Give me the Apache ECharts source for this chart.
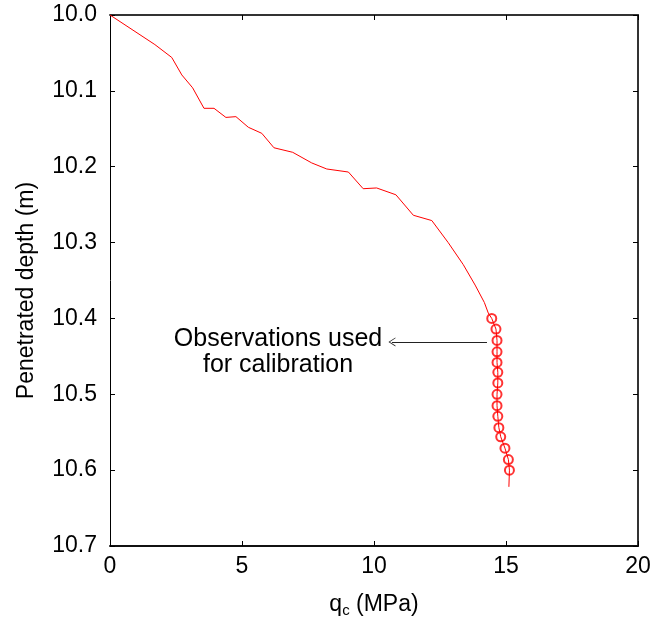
<!DOCTYPE html>
<html>
<head>
<meta charset="utf-8">
<script src="https://cdn.jsdelivr.net/npm/echarts@6/dist/echarts.min.js"></script>
<style>
  html, body { margin: 0; padding: 0; background: #fff; }
  #chart { width: 651px; height: 621px; }
</style>
</head>
<body>
<div id="chart"></div>
<script>
// cone resistance profile (x = qc in MPa, y = depth in m)
const profileQc = [0, 1.70, 2.34, 2.72, 3.13, 3.56, 3.94, 4.39, 4.77, 5.24, 5.75, 6.21, 6.92, 7.64, 8.21, 9.03, 9.59, 10.10, 10.83, 11.49, 12.19, 12.81, 13.38, 13.83, 14.18, 14.33,
  14.46, 14.62, 14.66, 14.66, 14.66, 14.69, 14.69, 14.66, 14.66, 14.69, 14.73, 14.80, 14.96, 15.09, 15.13, 15.11]
const profileDepth = [10.0, 10.039, 10.056, 10.079, 10.096, 10.123, 10.123, 10.135, 10.134, 10.148, 10.156, 10.175, 10.181, 10.195, 10.203, 10.207, 10.229, 10.228, 10.237, 10.264, 10.271, 10.300, 10.329, 10.356, 10.379, 10.393,
  10.400, 10.414, 10.429, 10.444, 10.458, 10.471, 10.485, 10.500, 10.515, 10.529, 10.544, 10.556, 10.571, 10.586, 10.600, 10.622]

// observations used for calibration
const obsQc = [14.46, 14.62, 14.66, 14.66, 14.66, 14.69, 14.69, 14.66, 14.66, 14.69, 14.73, 14.80, 14.96, 15.09, 15.13]
const obsDepth = [10.400, 10.414, 10.429, 10.444, 10.458, 10.471, 10.485, 10.500, 10.515, 10.529, 10.544, 10.556, 10.571, 10.586, 10.600]

// arrow of the annotation (from, to)
const arrowFrom = [14.28, 10.431]
const arrowTo = [10.68, 10.431]

const xTicks = [0, 5, 10, 15, 20]
const yTickLabels = ['10.0', '10.1', '10.2', '10.3', '10.4', '10.5', '10.6', '10.7']

const font = 'Liberation Sans, Arial, sans-serif'
const red = '#ff0000'

let chart = echarts.init(document.getElementById('chart'))

const thin = {color: '#000', width: 1}
const thick = {color: '#333', width: 2}

let option = {
  animation: false,
  grid: {left: 110, right: 13, top: 15, bottom: 75, containLabel: false, outerBoundsMode: 'none'},
  xAxis: [
    {
      type: 'value', min: xTicks[0], max: xTicks[xTicks.length - 1], interval: 5,
      position: 'bottom',
      name: '{q|q}{s|c}{q| (MPa)}',
      nameLocation: 'middle', nameGap: 45,
      nameTextStyle: {
        rich: {
          q: {fontFamily: font, fontSize: 23, color: '#000'},
          s: {fontFamily: font, fontSize: 15, color: '#000', verticalAlign: 'bottom', padding: [12, 0, 0, 0]}
        }
      },
      axisLine: {show: true, onZero: false, lineStyle: {color: '#111', width: 2}},
      axisTick: {show: true, inside: true, length: 5, lineStyle: thin},
      axisLabel: {fontFamily: font, fontSize: 23, color: '#000', margin: 9},
      splitLine: {show: false}
    },
    {
      type: 'value', min: 0, max: 20, interval: 5, position: 'top',
      axisLine: {show: true, onZero: false, lineStyle: thick},
      axisTick: {show: true, inside: true, length: 5, lineStyle: thin},
      axisLabel: {show: false},
      splitLine: {show: false}
    }
  ],
  yAxis: [
    {
      type: 'value', inverse: true, min: 10.0, max: 10.7, interval: 0.1,
      position: 'left',
      name: 'Penetrated depth (m)',
      nameLocation: 'middle', nameGap: 72, nameRotate: 90,
      nameTextStyle: {fontFamily: font, fontSize: 23, color: '#000', padding: [0, 20, 0, 0]},
      axisLine: {show: true, onZero: false, lineStyle: thin},
      axisTick: {show: true, inside: true, length: 5, lineStyle: thin},
      axisLabel: {
        fontFamily: font, fontSize: 23, color: '#000', margin: 13,
        formatter: (v) => {
          let i = Math.round((v - 10) * 10)
          return yTickLabels[i]
        }
      },
      splitLine: {show: false}
    },
    {
      type: 'value', inverse: true, min: 10.0, max: 10.7, interval: 0.1,
      position: 'right',
      axisLine: {show: true, onZero: false, lineStyle: thick},
      axisTick: {show: true, inside: true, length: 5, lineStyle: thin},
      axisLabel: {show: false},
      splitLine: {show: false}
    }
  ],
  series: [
    {
      type: 'line',
      data: profileQc.map((q, i) => [q, profileDepth[i]]),
      showSymbol: false,
      symbol: 'none',
      lineStyle: {color: red, width: 1},
      markLine: {
        silent: true,
        symbol: ['none', 'path://M0,10 L5,0 L10,10 L9,10 L5,2 L1,10 Z'],
        symbolSize: [9, 7],
        lineStyle: {color: '#222', width: 1, type: 'solid'},
        label: {show: false},
        data: [[{coord: arrowFrom}, {coord: arrowTo}]]
      }
    },
    {
      type: 'scatter',
      data: obsQc.map((q, i) => [q, obsDepth[i]]),
      symbol: 'emptyCircle',
      symbolSize: 9,
      itemStyle: {color: red, borderColor: red, borderWidth: 1}
    }
  ],
  graphic: [
    {
      type: 'text', x: 278, y: 326,
      style: {
        text: 'Observations used\nfor calibration',
        font: '25px ' + font, fill: '#000', lineHeight: 26, align: 'center'
      }
    }
  ]
}

chart.setOption(option)
</script>
</body>
</html>
